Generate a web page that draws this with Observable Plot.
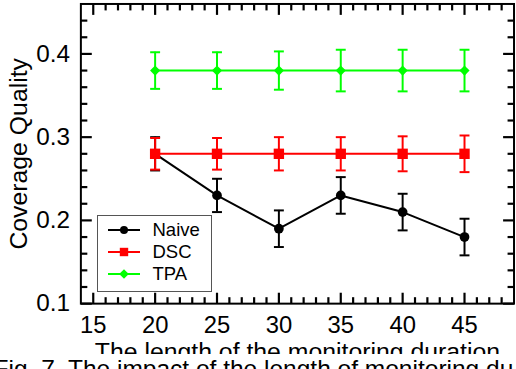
<!DOCTYPE html>
<html>
<head>
<meta charset="utf-8">
<script src="https://cdn.jsdelivr.net/npm/d3@7"></script>
<script src="https://cdn.jsdelivr.net/npm/@observablehq/plot@0.6"></script>
<style>
html, body { margin: 0; padding: 0; background: #fff; }
#wrap { position: relative; width: 516px; height: 369px; overflow: hidden; font-family: "Liberation Sans", Arial, Helvetica, sans-serif; }
#chart svg { display: block; }
#legend { position: absolute; left: 97px; top: 215px; width: 115px; height: 77px; box-sizing: border-box; border: 1.5px solid #555; background: #fff; padding: 3.2px 0 0 9.5px; }
.row { display: flex; align-items: center; height: 22px; font-size: 18.5px; color: #000; }
.row svg { display: block; margin-right: 11px; }
#caption { position: absolute; left: -6.5px; top: 357px; width: 540px; height: 16px; background: #fff; white-space: nowrap; font-size: 24.5px; line-height: 24.5px; color: #000; z-index: 2; }
</style>
</head>
<body>
<div id="wrap">
  <div id="chart"></div>
  <div id="legend"></div>
  <div id="caption"></div>
</div>
<script>
// ---- data ----
const durations = [20, 25, 30, 35, 40, 45];
const naive    = [0.28, 0.23, 0.19, 0.23, 0.21, 0.18];
const naiveErr = [0.02, 0.02, 0.022, 0.022, 0.022, 0.022];
const dsc      = [0.28, 0.28, 0.28, 0.28, 0.28, 0.28];
const dscErr   = [0.019, 0.019, 0.02, 0.02, 0.021, 0.022];
const tpa      = [0.38, 0.38, 0.38, 0.38, 0.38, 0.38];
const tpaErr   = [0.022, 0.022, 0.023, 0.025, 0.025, 0.025];
const seriesNames  = ["Naive", "DSC", "TPA"];
const seriesColors = ["#000000", "#ff0000", "#00ff00"];
const xDomain = [14, 49];
const yDomain = [0.1, 0.46];
const xMajorTicks = [15, 20, 25, 30, 35, 40, 45];
const xMinorTicks = [16, 17, 18, 19, 21, 22, 23, 24, 26, 27, 28, 29, 31, 32, 33, 34, 36, 37, 38, 39, 41, 42, 43, 44, 46, 47, 48];
const yMajorTicks = [0.1, 0.2, 0.3, 0.4];
const yMinorTicks = [0.12, 0.14, 0.16, 0.18, 0.22, 0.24, 0.26, 0.28, 0.32, 0.34, 0.36, 0.38, 0.42, 0.44];
const xTitle = "The length of the monitoring duration";
const yTitle = "Coverage Quality";
const captionText = "Fig. 7. The impact of the length of monitoring du";

// ---- layout ----
const W = 520, H = 357;
const mL = 81, mR = 2.5, mT = 3.5, mB = 51.5;
const frameW = W - mL - mR, frameH = H - mT - mB;
const majorLen = 11, minorLen = 6.5;
const tickW = 2.2;
const pxX = frameW / (xDomain[1] - xDomain[0]);
const pxY = frameH / (yDomain[1] - yDomain[0]);

const values = [naive, dsc, tpa];
const errs = [naiveErr, dscErr, tpaErr];
const symbols = ["circle", "square", "diamond2"];
const radii = [4.9, 5.9, 4.6];

const capSymbol = { draw(ctx) { ctx.moveTo(-5, 0); ctx.lineTo(5, 0); } };

const seriesMarks = seriesNames.flatMap((name, s) => {
  const rows = durations.map((x, i) => ({ x, y: values[s][i], err: errs[s][i] }));
  const c = seriesColors[s];
  return [
    Plot.line(rows, { x: "x", y: "y", stroke: c, strokeWidth: 2 }),
    Plot.ruleX(rows, { x: "x", y1: d => d.y - d.err, y2: d => d.y + d.err, stroke: c, strokeWidth: 2 }),
    Plot.dot(rows, { x: "x", y: d => d.y + d.err, symbol: capSymbol, r: 5, fill: "none", stroke: c, strokeWidth: 2 }),
    Plot.dot(rows, { x: "x", y: d => d.y - d.err, symbol: capSymbol, r: 5, fill: "none", stroke: c, strokeWidth: 2 }),
    Plot.dot(rows, { x: "x", y: "y", symbol: symbols[s], r: radii[s], fill: c, stroke: "none" })
  ];
});

// inward tick segments on all four sides (lengths converted to data units)
function xTickRows(list, len) {
  const dy = len / pxY;
  return list.flatMap(v => [
    { x: v, y1: yDomain[0], y2: yDomain[0] + dy },
    { x: v, y1: yDomain[1] - dy, y2: yDomain[1] }
  ]);
}
function yTickRows(list, len) {
  const dx = len / pxX;
  return list.flatMap(v => [
    { y: v, x1: xDomain[0], x2: xDomain[0] + dx },
    { y: v, x1: xDomain[1] - dx, x2: xDomain[1] }
  ]);
}
const xTickData = [...xTickRows(xMajorTicks, majorLen), ...xTickRows(xMinorTicks, minorLen)];
const yTickData = [...yTickRows(yMajorTicks, majorLen), ...yTickRows(yMinorTicks, minorLen)];

const chart = Plot.plot({
  width: W,
  height: H,
  marginLeft: mL,
  marginRight: mR,
  marginTop: mT,
  marginBottom: mB,
  style: { fontFamily: "Liberation Sans, Arial, Helvetica, sans-serif" },
  x: { domain: xDomain },
  y: { domain: yDomain },
  marks: [
    Plot.frame({ stroke: "black", strokeWidth: 2, fill: "none" }),
    Plot.link(xTickData, { x1: "x", x2: "x", y1: "y1", y2: "y2", stroke: "black", strokeWidth: tickW }),
    Plot.link(yTickData, { x1: "x1", x2: "x2", y1: "y", y2: "y", stroke: "black", strokeWidth: tickW }),
    Plot.axisX({ ticks: xMajorTicks, tickSize: 0, tickPadding: 13, fontSize: 24, label: null, tickFormat: d => String(d) }),
    Plot.axisY({ ticks: yMajorTicks, tickSize: 0, tickPadding: 11, fontSize: 24.5, label: null, tickFormat: d3.format(".1f") }),
    Plot.text([xTitle], { text: d => d, frameAnchor: "bottom", lineAnchor: "top", dy: 39.5, fontSize: 25, fill: "black" }),
    Plot.text([yTitle], { text: d => d, frameAnchor: "left", rotate: -90, dx: -62, lineAnchor: "middle", textAnchor: "middle", fontSize: 25, fill: "black" }),
    ...seriesMarks
  ]
});
document.getElementById("chart").appendChild(chart);

// ---- legend (HTML) ----
const legend = document.getElementById("legend");
const symbolSvg = [
  c => `<circle cx="16" cy="11" r="4" fill="${c}"/>`,
  c => `<rect x="11.8" y="6.8" width="8.4" height="8.4" fill="${c}"/>`,
  c => `<path d="M16 6.2 L20.8 11 L16 15.8 L11.2 11 Z" fill="${c}"/>`
];
seriesNames.forEach((name, s) => {
  const c = seriesColors[s];
  const row = document.createElement("div");
  row.className = "row";
  row.innerHTML = `<svg width="34" height="22"><line x1="0" y1="11" x2="32" y2="11" stroke="${c}" stroke-width="2"/>${symbolSvg[s](c)}</svg><span>${name}</span>`;
  legend.appendChild(row);
});

document.getElementById("caption").textContent = captionText;
</script>
</body>
</html>
